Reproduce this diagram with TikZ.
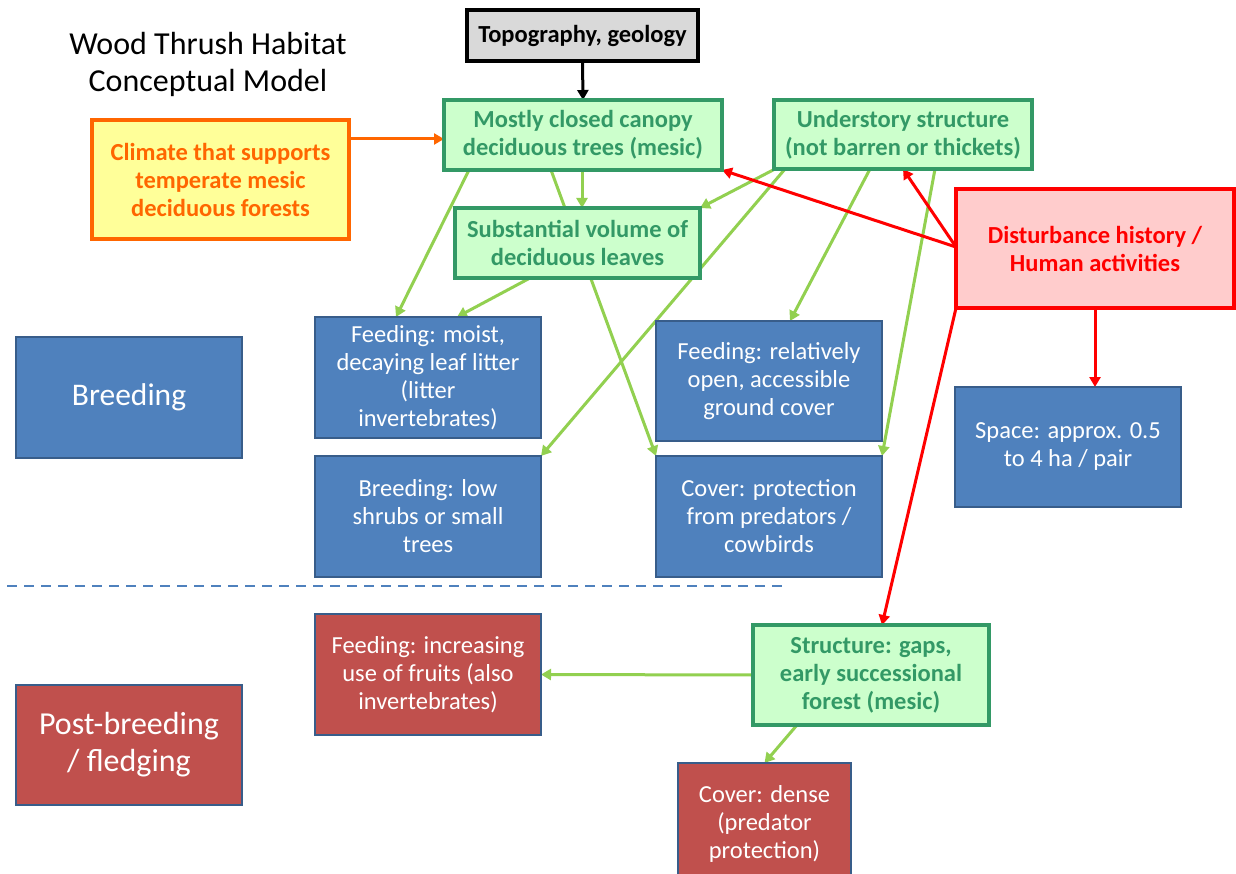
\documentclass[tikz,border=0pt]{standalone}
\usepackage{fontspec}
\setmainfont{Carlito}
\usetikzlibrary{arrows.meta,calc}
\definecolor{gfill}{HTML}{CCFFCC}
\definecolor{gline}{HTML}{339966}
\definecolor{bfill}{HTML}{4F81BD}
\definecolor{bline}{HTML}{385D8A}
\definecolor{rfill}{HTML}{C0504D}
\definecolor{yfill}{HTML}{FFFF99}
\definecolor{oline}{HTML}{FF6600}
\definecolor{pfill}{HTML}{FFCCCC}
\definecolor{rline}{HTML}{FF0000}
\definecolor{topfill}{HTML}{D9D9D9}
\definecolor{garrow}{HTML}{92D050}
\pgfdeclarelayer{back}
\pgfdeclarelayer{bg}
\pgfsetlayers{back,bg,main}
\begin{document}
\begin{tikzpicture}[x=1pt,y=-1pt,
  box/.style={draw, rectangle, inner sep=0pt, outer sep=0pt, align=center},
  gbox/.style={box, fill=gfill, draw=gline, line width=4pt, text=gline, font=\bfseries\fontsize{24.5}{28}\selectfont},
  bbox/.style={box, fill=bfill, draw=bline, line width=2.5pt, text=white, font=\fontsize{24.5}{28}\selectfont, minimum width=226pt, minimum height=121pt},
  rbox/.style={bbox, fill=rfill},
  garr/.style={draw=garrow, line width=3pt, -{Triangle[length=10pt,width=11pt]}},
  rarr/.style={draw=rline, line width=3pt, -{Triangle[length=10pt,width=11pt]}},
  sep/.style={draw=bfill, line width=2.5pt, dash pattern=on 10pt off 7pt}
]
\useasboundingbox (0,0) rectangle (1236,874);
\begin{pgfonlayer}{back}
\fill[white] (0,0) rectangle (1236,874);
\end{pgfonlayer}

\node[align=center, font=\fontsize{32}{37}\selectfont] (title) at (208,64) {Wood Thrush Habitat\\Conceptual Model};

\node[box, fill=topfill, draw=black, line width=4pt, font=\bfseries\fontsize{24.5}{28}\selectfont, minimum width=231pt, minimum height=51pt] (topo) at (582.5,35.5) {Topography, geology};

\node[gbox, minimum width=278pt, minimum height=70pt] (canopy) at (583,135) {Mostly closed canopy\\deciduous trees (mesic)};
\node[gbox, minimum width=258pt, minimum height=69pt] (under) at (903,134.5) {Understory structure\\(not barren or thickets)};
\node[box, fill=yfill, draw=oline, line width=4pt, text=oline, font=\bfseries\fontsize{24.5}{28}\selectfont, minimum width=257pt, minimum height=119pt] (climate) at (220.5,179.5) {Climate that supports\\temperate mesic\\deciduous forests};
\node[gbox, minimum width=245pt, minimum height=70pt] (subst) at (577.5,243) {Substantial volume of\\deciduous leaves};
\node[box, fill=pfill, draw=rline, line width=4pt, text=rline, font=\bfseries\fontsize{24.5}{28}\selectfont, minimum width=278pt, minimum height=119pt] (dist) at (1095,248.5) {Disturbance history /\\Human activities};

\node[bbox] (fmoist) at (428,377.5) {Feeding: moist,\\decaying leaf litter\\(litter\\invertebrates)};
\node[bbox, minimum height=120pt] (frel) at (769,381) {Feeding: relatively\\open, accessible\\ground cover};
\node[bbox, font=\fontsize{31.5}{37}\selectfont] (breed) at (129,397.5) {Breeding};
\node[bbox, minimum height=120pt] (space) at (1068,447) {Space: approx. 0.5\\to 4 ha / pair};
\node[bbox] (blow) at (428,516.5) {Breeding: low\\shrubs or small\\trees};
\node[bbox] (cprot) at (769,516.5) {Cover: protection\\from predators /\\cowbirds};

\node[rbox] (finc) at (428,674.5) {Feeding: increasing\\use of fruits (also\\invertebrates)};
\node[gbox, minimum width=236pt, minimum height=100pt] (struct) at (871,675) {Structure: gaps,\\early successional\\forest (mesic)};
\node[rbox, minimum height=120pt, font=\fontsize{32}{37}\selectfont] (post) at (129,745) {Post-breeding\\/ fledging};
\node[rbox, minimum width=173pt, minimum height=122pt] (cdense) at (764.5,824) {Cover: dense\\(predator\\protection)};

\coordinate (sepL) at (7,586);
\coordinate (sepR) at (785,586);

\begin{pgfonlayer}{bg}
\draw[sep] (sepL) -- (sepR);
\draw[line width=3pt, -{Triangle[length=10pt,width=11pt]}] (topo.south) -- (canopy.north);
\draw[draw=oline, line width=3pt, -{Triangle[length=10pt,width=11pt]}] ([yshift=40.5]climate.east) -- ([yshift=-4]canopy.west);
\draw[garr] ([xshift=-114]canopy.south) -- ([xshift=-32]fmoist.north);
\draw[garr] ([xshift=-1]canopy.south) -- ([xshift=4.5]subst.north);
\draw[garr] ([xshift=-32]canopy.south) -- (cprot.north west);
\draw[garr] ([xshift=-47.5]subst.south) -- ([xshift=29]fmoist.north);
\draw[garr] ([xshift=1]under.south west) -- (subst.north east);
\draw[garr] ([xshift=11]under.south west) -- (blow.north east);
\draw[garr] ([xshift=-33]under.south) -- ([xshift=21]frel.north);
\draw[garr] ([xshift=32]under.south) -- (cprot.north east);
\draw[rarr] ([yshift=1.5]dist.west) -- (canopy.south east);
\draw[rarr] ([yshift=1.5]dist.west) -- (under.south);
\draw[rarr] (dist.south) -- ([xshift=27]space.north);
\draw[rarr] (dist.south west) -- ([xshift=11]struct.north);
\draw[garr] (struct.west) -- (finc.east);
\draw[garr] ([xshift=-74]struct.south) -- (cdense.north);
\end{pgfonlayer}
\end{tikzpicture}
\end{document}
